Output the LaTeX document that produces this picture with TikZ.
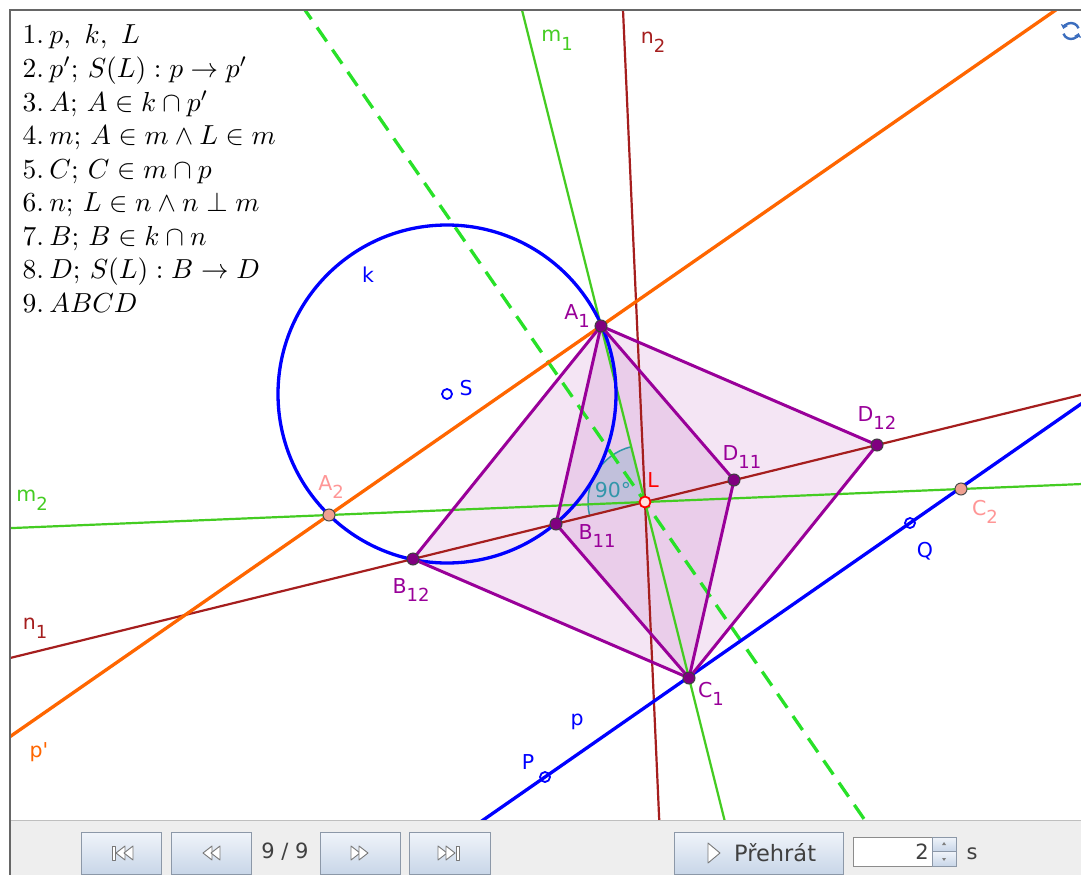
\documentclass[tikz,border=0pt]{standalone}
\usepackage{fontspec}
\newfontfamily\ggfont{DejaVu Sans}
\usetikzlibrary{calc,arrows.meta}
\definecolor{pblue}{RGB}{0,0,255}
\definecolor{porange}{RGB}{255,102,0}
\definecolor{mgreen}{RGB}{68,204,34}
\definecolor{dgreen}{RGB}{40,225,40}
\definecolor{nred}{RGB}{165,30,30}
\definecolor{purp}{RGB}{153,0,153}
\definecolor{ptpurp}{RGB}{128,0,128}
\definecolor{pinklab}{RGB}{255,150,150}
\definecolor{pinkpt}{RGB}{240,160,145}
\definecolor{angteal}{RGB}{50,150,170}
\definecolor{barbg}{RGB}{238,238,238}
\definecolor{btntop}{RGB}{240,244,250}
\definecolor{btnbot}{RGB}{200,214,232}
\definecolor{btnedge}{RGB}{140,152,168}
\definecolor{icongray}{RGB}{120,120,120}
\definecolor{refblue}{RGB}{60,110,190}
\newcommand\glab[2]{#1\raisebox{-0.42em}{\fontsize{18}{18}\selectfont #2}}
\begin{document}
\begin{tikzpicture}[x=1pt,y=-1pt,
  lbl/.style={font=\ggfont\fontsize{20.5}{24}\selectfont, inner sep=0pt},
  listtxt/.style={anchor=base west, inner sep=0pt, scale=2.75, font=\normalsize},
  ptpurp/.style={circle, fill=ptpurp, draw=black!75, line width=1pt, minimum size=12pt, inner sep=0pt},
  ptpink/.style={circle, fill=pinkpt, draw=black!70, line width=1pt, minimum size=12pt, inner sep=0pt},
  ptred/.style={circle, fill=red!12, draw=red, line width=1.8pt, minimum size=11pt, inner sep=0pt},
  ptblue/.style={circle, draw=pblue, line width=1.8pt, minimum size=10pt, inner sep=0pt},
  thinln/.style={line width=2.2pt},
  thickln/.style={line width=3.3pt},
  edge/.style={draw=purp, line width=3pt, line join=round},
  btnbox/.style={draw=btnedge, line width=0.8pt, top color=btntop, bottom color=btnbot},
  ico/.style={draw=icongray, line width=0.9pt, fill=white, line join=round},
  uitxt/.style={font=\ggfont\fontsize{21}{24}\selectfont, text=black!75, inner sep=0pt}
]
\useasboundingbox (0,0) rectangle (1081,875);
\fill[white] (0,0) rectangle (1081,875);

% points
\coordinate (L) at (645,502);
\coordinate (A1) at (601,326);
\coordinate (C1) at (689,678);
\coordinate (B11) at (556,524);
\coordinate (D11) at (734,480);
\coordinate (B12) at (413,559);
\coordinate (D12) at (877,445);
\coordinate (A2) at (329,515);
\coordinate (C2) at (961,489);
\coordinate (S) at (447,394);
\coordinate (P) at (545,777);
\coordinate (Q) at (910,523);
\coordinate (N2) at (623,10);
\coordinate (DS) at (305,10);

\begin{scope}
\clip (10,10) rectangle (1081,820);
% polygon fills
\fill[purp, opacity=0.1] (A1) -- (B12) -- (C1) -- (D12) -- cycle;
\fill[purp, opacity=0.1] (A1) -- (B11) -- (C1) -- (D11) -- cycle;
% angle
\fill[angteal, opacity=0.22] (L) -- ($(L)!57pt!(A1)$) arc[start angle=104, end angle=194, radius=57pt] -- cycle;
\draw[angteal, line width=1.5pt] ($(L)!57pt!(A1)$) arc[start angle=104, end angle=194, radius=57pt];
% lines
\draw[dgreen, thickln, dash pattern=on 17pt off 10pt] ($(DS)!-0.1!(L)$) -- ($(DS)!2!(L)$);
\draw[nred, thinln] ($(N2)!-0.1!(L)$) -- ($(N2)!2!(L)$);
\draw[nred, thinln] ($(B12)!-2!(D12)$) -- ($(B12)!3!(D12)$);
\draw[mgreen, thinln] ($(A1)!-2!(C1)$) -- ($(A1)!3!(C1)$);
\draw[mgreen, thinln] ($(A2)!-2!(C2)$) -- ($(A2)!3!(C2)$);
\draw[porange, thickln] ($(A2)!-3!(A1)$) -- ($(A2)!4!(A1)$);
\draw[pblue, thickln] ($(P)!-2!(Q)$) -- ($(P)!3!(Q)$);
\draw[pblue, thickln] (S) circle[radius=169pt];
% polygon edges
\draw[edge] (A1) -- (B12) -- (C1) -- (D12) -- cycle;
\draw[edge] (A1) -- (B11) -- (C1) -- (D11) -- cycle;
\end{scope}

% point markers
\node[ptpurp] (nA1) at (A1) {};
\node[ptpurp] (nC1) at (C1) {};
\node[ptpurp] (nB11) at (B11) {};
\node[ptpurp] (nD11) at (D11) {};
\node[ptpurp] (nB12) at (B12) {};
\node[ptpurp] (nD12) at (D12) {};
\node[ptpink] (nA2) at (A2) {};
\node[ptpink] (nC2) at (C2) {};
\node[ptred] (nL) at (L) {};
\node[ptblue] (nS) at (S) {};
\node[ptblue] (nP) at (P) {};
\node[ptblue] (nQ) at (Q) {};

% labels
\node[lbl, text=purp] (lA1) at (577,316) {\glab{A}{1}};
\node[lbl, text=purp] (lB11) at (597,536) {\glab{B}{11}};
\node[lbl, text=purp] (lD11) at (742,457) {\glab{D}{11}};
\node[lbl, text=purp] (lB12) at (411,590) {\glab{B}{12}};
\node[lbl, text=purp] (lD12) at (877,418) {\glab{D}{12}};
\node[lbl, text=purp] (lC1) at (711,694) {\glab{C}{1}};
\node[lbl, text=pinklab] (lA2) at (331,487) {\glab{A}{2}};
\node[lbl, text=pinklab] (lC2) at (985,512) {\glab{C}{2}};
\node[lbl, text=red] (lL) at (653,480) {L};
\node[lbl, text=angteal] (l90) at (613,490) {90°};
\node[lbl, text=pblue] (lS) at (466,388) {S};
\node[lbl, text=pblue] (lk) at (368,275) {k};
\node[lbl, text=pblue] (lQ) at (925,551) {Q};
\node[lbl, text=pblue] (lP) at (528,762) {P};
\node[lbl, text=pblue] (lp) at (577,722) {p};
\node[lbl, text=porange] (lpp) at (39,752) {p'};
\node[lbl, text=mgreen] (lm1) at (557,40) {\glab{m}{1}};
\node[lbl, text=nred] (ln2) at (653,42) {\glab{n}{2}};
\node[lbl, text=mgreen] (lm2) at (32,500) {\glab{m}{2}};
\node[lbl, text=nred] (ln1) at (35,628) {\glab{n}{1}};

% construction list
\node[listtxt] (t1) at (22,44) {1.\hspace{2pt}$p,\ k,\ L$};
\node[listtxt] (t2) at (22,77.5) {2.\hspace{2pt}$p'$; $S(L):p\rightarrow p'$};
\node[listtxt] (t3) at (22,111) {3.\hspace{2pt}$A$; $A\in k\cap p'$};
\node[listtxt] (t4) at (22,144.5) {4.\hspace{2pt}$m$; $A\in m\wedge L\in m$};
\node[listtxt] (t5) at (22,178) {5.\hspace{2pt}$C$; $C\in m\cap p$};
\node[listtxt] (t6) at (22,211.5) {6.\hspace{2pt}$n$; $L\in n\wedge n\perp m$};
\node[listtxt] (t7) at (22,245) {7.\hspace{2pt}$B$; $B\in k\cap n$};
\node[listtxt] (t8) at (22,278.5) {8.\hspace{2pt}$D$; $S(L):B\rightarrow D$};
\node[listtxt] (t9) at (22,312) {9.\hspace{2pt}$ABCD$};

% refresh icon
\draw[refblue, line width=2.4pt, -{Triangle[length=4pt,width=7pt]}] (1071,31) ++(20:8pt) arc[start angle=20, end angle=165, radius=8pt];
\draw[refblue, line width=2.4pt, -{Triangle[length=4pt,width=7pt]}] (1071,31) ++(200:8pt) arc[start angle=200, end angle=345, radius=8pt];

% frame
\fill[barbg] (10,820) rectangle (1081,875);
\draw[black!25, line width=1pt] (10,820) -- (1081,820);
\draw[black!60, line width=1.2pt] (1081,10) -- (10,10) -- (10,875);

% buttons
\draw[btnbox] (81,832) rectangle (161,874);
\draw[btnbox] (171,832) rectangle (251,874);
\draw[btnbox] (320,832) rectangle (400,874);
\draw[btnbox] (409,832) rectangle (490,874);
\draw[btnbox] (674,832) rectangle (843,874);
% icons
\draw[ico] (112,846) rectangle (115,860);
\draw[ico] (125,846) -- (116,853) -- (125,860) -- cycle;
\draw[ico] (133,846) -- (124,853) -- (133,860) -- cycle;
\draw[ico] (212,846) -- (203,853) -- (212,860) -- cycle;
\draw[ico] (220,846) -- (211,853) -- (220,860) -- cycle;
\draw[ico] (351,846) -- (360,853) -- (351,860) -- cycle;
\draw[ico] (359,846) -- (368,853) -- (359,860) -- cycle;
\draw[ico] (438,846) -- (447,853) -- (438,860) -- cycle;
\draw[ico] (446,846) -- (455,853) -- (446,860) -- cycle;
\draw[ico] (456,846) rectangle (459,860);
\draw[ico] (708,843) -- (720,853) -- (708,863) -- cycle;
\node[uitxt] (cnt) at (285,852) {9 / 9};
\node[uitxt, anchor=west, font=\ggfont\fontsize{22.5}{26}\selectfont] (play) at (734,853) {Přehrát};
% spinner
\draw[black!45, fill=white, line width=0.8pt] (853,837) rectangle (932,866);
\draw[btnbox] (932,837) rectangle (956,851.5);
\draw[btnbox] (932,851.5) rectangle (956,866);
\fill[black!50] (942,845) -- (944,842) -- (946,845) -- cycle;
\fill[black!50] (942,858) -- (944,861) -- (946,858) -- cycle;
\node[uitxt, anchor=east] (val) at (929,852) {2};
\node[uitxt] (unit) at (972,854) {s};
\end{tikzpicture}
\end{document}
